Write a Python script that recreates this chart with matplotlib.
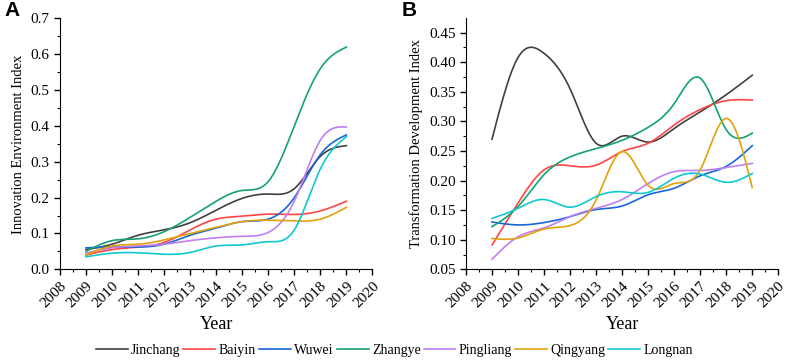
import numpy as np
import matplotlib
matplotlib.use("Agg")
import matplotlib.pyplot as plt
from matplotlib.ticker import MultipleLocator, FuncFormatter

years = np.arange(2009, 2020)
cities = ["Jinchang", "Baiyin", "Wuwei", "Zhangye", "Pingliang", "Qingyang", "Longnan"]
colors = ["#404040", "#ff4545", "#1767d8", "#14a273", "#c07ef0", "#e0a20a", "#10c8d2"]

# Innovation Environment Index (panel A)
innov = {
    "Jinchang":  [0.055, 0.070, 0.095, 0.110, 0.130, 0.165, 0.198, 0.210, 0.225, 0.315, 0.345],
    "Baiyin":    [0.040, 0.055, 0.062, 0.075, 0.110, 0.140, 0.148, 0.154, 0.153, 0.163, 0.190],
    "Wuwei":     [0.060, 0.062, 0.062, 0.070, 0.095, 0.115, 0.133, 0.140, 0.200, 0.320, 0.375],
    "Zhangye":   [0.050, 0.080, 0.085, 0.105, 0.145, 0.190, 0.220, 0.245, 0.400, 0.560, 0.620],
    "Pingliang": [0.045, 0.060, 0.065, 0.070, 0.080, 0.088, 0.092, 0.103, 0.190, 0.360, 0.397],
    "Qingyang":  [0.040, 0.065, 0.070, 0.082, 0.100, 0.117, 0.133, 0.137, 0.135, 0.140, 0.173],
    "Longnan":   [0.035, 0.045, 0.046, 0.042, 0.047, 0.065, 0.068, 0.077, 0.110, 0.280, 0.370],
}

# Transformation Development Index (panel B)
trans = {
    "Jinchang":  [0.270, 0.408, 0.415, 0.355, 0.263, 0.275, 0.265, 0.288, 0.316, 0.345, 0.378],
    "Baiyin":    [0.091, 0.162, 0.218, 0.225, 0.226, 0.249, 0.263, 0.294, 0.320, 0.335, 0.336],
    "Wuwei":     [0.130, 0.125, 0.129, 0.139, 0.151, 0.157, 0.176, 0.187, 0.208, 0.224, 0.259],
    "Zhangye":   [0.122, 0.156, 0.210, 0.240, 0.254, 0.268, 0.290, 0.330, 0.373, 0.286, 0.280],
    "Pingliang": [0.067, 0.105, 0.120, 0.139, 0.153, 0.168, 0.195, 0.215, 0.217, 0.222, 0.229],
    "Qingyang":  [0.102, 0.103, 0.118, 0.124, 0.167, 0.249, 0.192, 0.195, 0.218, 0.305, 0.188],
    "Longnan":   [0.136, 0.153, 0.168, 0.155, 0.173, 0.181, 0.180, 0.204, 0.211, 0.197, 0.212],
}


def spline(x, y, n=300):
    # natural cubic spline, only used to draw the smooth connecting line
    x = np.asarray(x, float)
    y = np.asarray(y, float)
    m = len(x)
    h = np.diff(x)
    A = np.zeros((m, m))
    b = np.zeros(m)
    A[0, 0] = A[-1, -1] = 1
    for i in range(1, m - 1):
        A[i, i - 1] = h[i - 1]
        A[i, i] = 2 * (h[i - 1] + h[i])
        A[i, i + 1] = h[i]
        b[i] = 6 * ((y[i + 1] - y[i]) / h[i] - (y[i] - y[i - 1]) / h[i - 1])
    M = np.linalg.solve(A, b)
    xs = np.linspace(x[0], x[-1], n)
    idx = np.clip(np.searchsorted(x, xs) - 1, 0, m - 2)
    x0, x1 = x[idx], x[idx + 1]
    hh = x1 - x0
    ys = (M[idx] * (x1 - xs) ** 3 / (6 * hh) + M[idx + 1] * (xs - x0) ** 3 / (6 * hh)
          + (y[idx] / hh - M[idx] * hh / 6) * (x1 - xs)
          + (y[idx + 1] / hh - M[idx + 1] * hh / 6) * (xs - x0))
    return xs, ys


plt.rcParams["font.family"] = ["Liberation Serif", "DejaVu Serif"]
plt.rcParams["font.size"] = 11

fig = plt.figure(figsize=(7.89, 3.61), dpi=100)
axA = fig.add_axes([0.076, 0.254, 0.396, 0.695])
axB = fig.add_axes([0.5906, 0.254, 0.3958, 0.695])

panels = [
    (axA, innov, "Innovation Environment Index", (0, 0.7), 0.1, 0.05, "{:.1f}"),
    (axB, trans, "Transformation Development Index", (0.05, 0.474), 0.05, 0.025, "{:.2f}"),
]

for ax, data, ylabel, ylim, major, minor, fmt in panels:
    for city, col in zip(cities, colors):
        xs, ys = spline(years, data[city])
        ax.plot(xs, ys, color=col, lw=1.2, label=city)
    ax.set_xlim(2008, 2020)
    ax.set_ylim(*ylim)
    ax.set_xticks(np.arange(2008, 2021))
    ax.xaxis.set_minor_locator(MultipleLocator(0.5))
    ax.yaxis.set_major_locator(MultipleLocator(major))
    ax.yaxis.set_minor_locator(MultipleLocator(minor))
    ax.yaxis.set_major_formatter(FuncFormatter(lambda v, p, f=fmt: f.format(v)))
    for lab in ax.get_xticklabels():
        lab.set_rotation(45)
        lab.set_ha("right")
        lab.set_rotation_mode("anchor")
    ax.tick_params(which="major", length=4, width=1, labelsize=11)
    ax.tick_params(which="minor", length=2.5, width=0.8)
    ax.spines["top"].set_visible(False)
    ax.spines["right"].set_visible(False)
    ax.set_xlabel("Year", fontsize=13, labelpad=4)
    ax.set_ylabel(ylabel, fontsize=10.5)

fig.text(0.006, 0.997, "A", fontsize=15, fontweight="bold", family="Liberation Sans", va="top", ha="left")
fig.text(0.509, 0.997, "B", fontsize=15, fontweight="bold", family="Liberation Sans", va="top", ha="left")

handles, labels = axA.get_legend_handles_labels()
fig.legend(handles, labels, loc="center", bbox_to_anchor=(0.5, 0.03), ncol=7, frameon=False,
           fontsize=10, handlelength=2.3, handletextpad=0.25, columnspacing=0.2)

fig.savefig("out.png", dpi=100)
